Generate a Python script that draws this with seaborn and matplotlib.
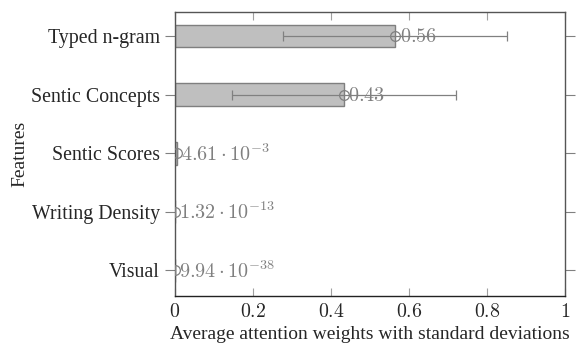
import matplotlib
matplotlib.use("Agg")
import matplotlib.pyplot as plt
import seaborn as sns
import pandas as pd

features = ["Typed n-gram", "Sentic Concepts", "Sentic Scores", "Writing Density", "Visual"]
means = [0.565, 0.433, 4.61e-3, 1.32e-13, 9.94e-38]
stds = [0.287, 0.287, 0.0, 0.0, 0.0]
value_labels = [r"$0.56$", r"$0.43$", r"$4.61\cdot10^{-3}$", r"$1.32\cdot10^{-13}$", r"$9.94\cdot10^{-38}$"]
xticks = [0, 0.2, 0.4, 0.6, 0.8, 1]
xtick_labels = [r"$0$", r"$0.2$", r"$0.4$", r"$0.6$", r"$0.8$", r"$1$"]

sns.set_theme(style="white")
plt.rcParams["mathtext.fontset"] = "cm"
plt.rcParams["font.family"] = ["Liberation Serif", "DejaVu Serif"]

df = pd.DataFrame({"feature": features, "mean": means})

fig = plt.figure(figsize=(5.76, 3.52), dpi=100)
ax = fig.add_axes([0.3038, 0.159, 0.677, 0.807])

sns.barplot(data=df, y="feature", x="mean", orient="h", ax=ax,
            color="#bfbfbf", saturation=1, width=0.39,
            edgecolor="#7f7f7f", linewidth=1.0, errorbar=None)

pos = list(range(len(features)))
ax.errorbar(means, pos, xerr=stds, fmt="o", mfc="none", mec="#808080",
            ecolor="#808080", color="#808080", ms=7, mew=0.9,
            elinewidth=0.9, capsize=3.5, capthick=0.9, zorder=5)

for m, p, lab in zip(means, pos, value_labels):
    ax.text(m + 0.011, p + 0.03, lab, color="#808080", fontsize=14.5,
            va="center", ha="left", zorder=6)

ax.set_xlim(0, 1)
ax.set_ylim(4.44, -0.41)
ax.set_xticks(xticks)
ax.set_xticklabels(xtick_labels, fontsize=14.3)
ax.set_yticks(pos)
ax.set_yticklabels(features, fontsize=14.3)

ax.tick_params(axis="x", which="both", direction="in", top=True, bottom=True,
               length=6, width=0.8, color="#a0a0a0", pad=5)
ax.tick_params(axis="y", which="both", direction="out", left=True, right=True,
               length=7, width=0.8, color="#808080", pad=4)

for s in ax.spines.values():
    s.set_visible(True)
    s.set_color("#555555")
    s.set_linewidth(1.0)
ax.spines["bottom"].set_color("#222222")

ax.set_xlabel("Average attention weights with standard deviations", fontsize=14, labelpad=3)
ax.set_ylabel("Features", fontsize=14, labelpad=2)

fig.savefig("out.png", dpi=100)
